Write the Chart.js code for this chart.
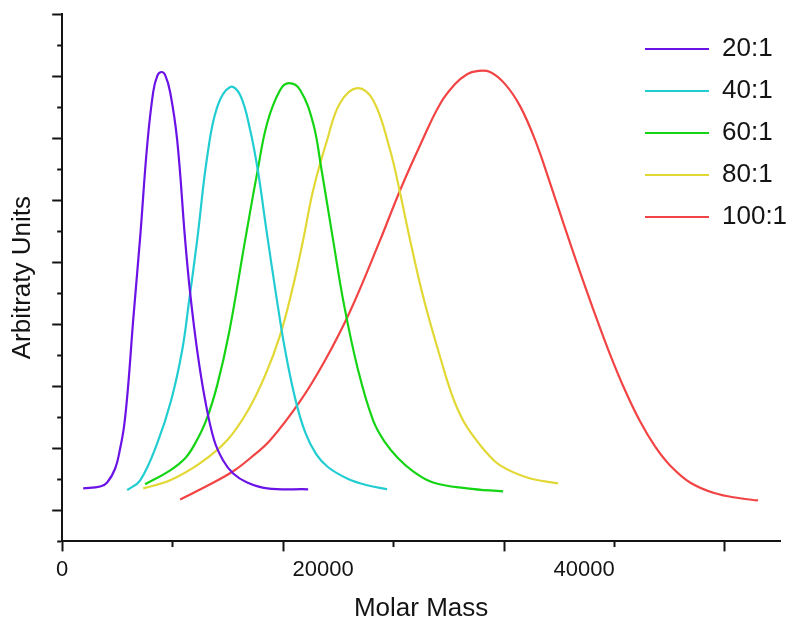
<!DOCTYPE html>
<html>
<head>
<meta charset="utf-8">
<script src="https://cdn.jsdelivr.net/npm/chart.js@4.4.1/dist/chart.umd.min.js"></script>
<style>
  html, body { margin: 0; padding: 0; background: #fff; }
  #wrap { width: 788px; height: 624px; }
</style>
</head>
<body>
<div id="wrap"><canvas id="chart" width="788" height="624"></canvas></div>
<script>
// series labels + colours
const seriesNames = ['20:1', '40:1', '60:1', '80:1', '100:1'];
const seriesColors = ['#6b12e6', '#22cdd2', '#14d414', '#e2d835', '#f24444'];

// molar mass (x) and signal (y, arbitrary)
const x20 = [1609, 2912, 3448, 4061, 4444, 4751, 5058, 5441, 5977, 6514, 6973, 7280, 7586, 7893, 8276, 8812, 9425, 9809, 10345, 10958, 11648, 12337, 13104, 14177, 15709, 18851];
const y20 = [1.71, 1.77, 1.90, 2.35, 3.00, 3.74, 5.03, 7.13, 9.81, 12.77, 14.48, 15.00, 15.13, 15.03, 14.48, 12.94, 9.71, 8.00, 6.16, 4.55, 3.26, 2.61, 2.19, 1.90, 1.71, 1.68];

const x40 = [4981, 5977, 7280, 8353, 9196, 9732, 10345, 11111, 11878, 12874, 13640, 14406, 15019, 15633, 16399, 17088, 17855, 18621, 19464, 20384, 21840, 23372, 24905];
const y40 = [1.65, 1.97, 3.16, 4.55, 6.16, 7.77, 9.71, 12.39, 14.00, 14.65, 14.39, 13.26, 11.90, 10.10, 7.94, 6.16, 4.61, 3.52, 2.81, 2.39, 2.03, 1.81, 1.68];

const x60 = [6360, 8276, 9425, 10192, 11035, 11878, 12797, 14023, 14943, 15709, 16705, 17395, 18238, 19234, 19847, 20766, 21609, 22682, 23831, 24751, 25748, 26897, 28430, 31034, 33793];
const y60 = [1.84, 2.29, 2.68, 3.16, 3.90, 5.03, 6.74, 9.71, 11.87, 13.48, 14.55, 14.77, 14.55, 13.48, 12.06, 9.71, 7.61, 5.52, 3.90, 3.19, 2.68, 2.26, 1.90, 1.71, 1.61];

const x80 = [6207, 8276, 10575, 12644, 14253, 15556, 16705, 17625, 18467, 19234, 20307, 21303, 22605, 23831, 25134, 25900, 26667, 27739, 29042, 29886, 30729, 31648, 32567, 33563, 35632, 38008];
const y80 = [1.71, 1.97, 2.52, 3.26, 4.23, 5.35, 6.65, 8.10, 9.71, 11.32, 12.94, 14.13, 14.61, 14.23, 12.61, 11.23, 9.71, 7.77, 5.84, 4.71, 3.90, 3.32, 2.84, 2.45, 2.06, 1.87];

const x100 = [9042, 11341, 13104, 14406, 15939, 18238, 20153, 22069, 24368, 25900, 27433, 28966, 30115, 31034, 31801, 32797, 33947, 35096, 36246, 37395, 38544, 39694, 40844, 41992, 43142, 44291, 45441, 46590, 48123, 50039, 51955, 53333];
const y100 = [1.35, 1.84, 2.26, 2.68, 3.26, 4.52, 5.84, 7.42, 9.71, 11.32, 12.77, 14.10, 14.74, 15.06, 15.16, 15.13, 14.74, 14.03, 12.94, 11.55, 10.10, 8.68, 7.32, 6.03, 4.87, 3.87, 3.06, 2.45, 1.90, 1.55, 1.39, 1.32];

// axis ticks (the tick marks on x don't line up with the labels in the original)
const xTickMarks = [0, 8467, 16934, 25401, 33868, 42335, 50802];
const xTickLabels = [0, 20000, 40000];
const xMax = 55020;
const yMax = 17;

const FONT = "'Liberation Sans', Arial, sans-serif";
const INK = '#141414';

const allX = [x20, x40, x60, x80, x100];
const allY = [y20, y40, y60, y80, y100];

const datasets = seriesNames.map((name, i) => ({
    label: name,
    data: allX[i].map((x, k) => ({ x: x, y: allY[i][k] })),
    borderColor: seriesColors[i],
    backgroundColor: seriesColors[i],
    borderWidth: 2.2,
    pointRadius: 0,
    fill: false,
    tension: 0.4
}));

// put the legend in the upper right corner, inside the plot
const legendSpot = {
    id: 'legendSpot',
    afterLayout(chart) {
        const lg = chart.legend;
        if (!lg) return;
        const w = lg.width, h = lg.height;
        lg.left = 629; lg.right = lg.left + w;
        lg.top = 20; lg.bottom = lg.top + h;
    }
};

const isMajorX = v => xTickMarks.indexOf(v) >= 0 && xTickMarks.indexOf(v) % 2 === 0;

new Chart(document.getElementById('chart'), {
    type: 'line',
    data: { datasets },
    plugins: [legendSpot],
    options: {
        responsive: false,
        animation: false,
        layout: { padding: { left: 3, right: 8, top: 14, bottom: 0 } },
        plugins: {
            tooltip: { enabled: false },
            legend: {
                position: 'chartArea',
                align: 'start',
                labels: {
                    usePointStyle: true,
                    pointStyle: 'line',
                    pointStyleWidth: 64,
                    padding: 16,
                    color: INK,
                    font: { family: FONT, size: 26 }
                }
            }
        },
        scales: {
            x: {
                type: 'linear',
                min: 0,
                max: xMax,
                afterBuildTicks: axis => {
                    const vals = Array.from(new Set(xTickMarks.concat(xTickLabels))).sort((a, b) => a - b);
                    axis.ticks = vals.map(v => ({ value: v }));
                },
                ticks: {
                    autoSkip: false,
                    maxRotation: 0,
                    padding: 5,
                    color: INK,
                    font: { family: FONT, size: 22 },
                    callback: v => xTickLabels.includes(v) ? String(v) : ''
                },
                grid: {
                    drawOnChartArea: false,
                    tickLength: 10,
                    tickWidth: 2,
                    tickColor: c => xTickMarks.includes(c.tick.value) ? INK : 'rgba(0,0,0,0)',
                    tickBorderDash: c => isMajorX(c.tick.value) ? [] : [5, 20]
                },
                border: { color: INK, width: 2 },
                title: {
                    display: true,
                    text: 'Molar Mass',
                    color: INK,
                    font: { family: FONT, size: 26 },
                    padding: { top: 5, bottom: 0 }
                }
            },
            y: {
                min: 0,
                max: yMax,
                ticks: { display: false, stepSize: 1 },
                grid: {
                    drawOnChartArea: false,
                    tickLength: 10,
                    tickWidth: 2,
                    tickColor: INK,
                    tickBorderDash: c => (Math.round(c.tick.value) % 2 === 1) ? [] : [10, 10],
                    tickBorderDashOffset: c => (Math.round(c.tick.value) % 2 === 1) ? 0 : 15
                },
                border: { color: INK, width: 2 },
                title: {
                    display: true,
                    text: 'Arbitraty Units',
                    color: INK,
                    font: { family: FONT, size: 26 },
                    padding: { top: 4, bottom: 14 }
                }
            }
        }
    }
});
</script>
</body>
</html>
